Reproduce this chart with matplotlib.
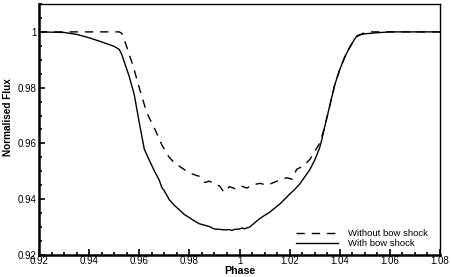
import matplotlib
matplotlib.use('Agg')
import matplotlib.pyplot as plt
from matplotlib.ticker import MultipleLocator, FuncFormatter

# light curve with bow shock (solid)
phase_with = [0.920, 0.930, 0.935, 0.940, 0.945, 0.950, 0.952, 0.953, 0.954, 0.956,
              0.958, 0.960, 0.962, 0.964, 0.966, 0.968, 0.969, 0.970, 0.972, 0.974,
              0.976, 0.978, 0.980, 0.982, 0.984, 0.986, 0.988, 0.990, 0.992, 0.994,
              0.996, 0.997, 0.998, 1.000, 1.001, 1.002, 1.004, 1.006, 1.008, 1.010,
              1.012, 1.014, 1.016, 1.018, 1.020, 1.022, 1.024, 1.026, 1.028, 1.030,
              1.032, 1.033, 1.034, 1.036, 1.038, 1.040, 1.042, 1.044, 1.046, 1.047,
              1.050, 1.055, 1.060, 1.080]
flux_with = [1.0000, 0.9998, 0.9991, 0.9979, 0.9964, 0.9948, 0.9937, 0.9920, 0.9893, 0.9840,
             0.9775, 0.9675, 0.9580, 0.9540, 0.9502, 0.9468, 0.9442, 0.9430, 0.9398, 0.9378,
             0.9362, 0.9345, 0.9334, 0.9322, 0.9312, 0.9307, 0.9302, 0.9293, 0.9292, 0.9290,
             0.9291, 0.9288, 0.9292, 0.9293, 0.9297, 0.9294, 0.9300, 0.9315, 0.9330, 0.9342,
             0.9353, 0.9368, 0.9382, 0.9400, 0.9418, 0.9435, 0.9454, 0.9480, 0.9505, 0.9540,
             0.9585, 0.9620, 0.9660, 0.9735, 0.9810, 0.9865, 0.9910, 0.9945, 0.9975, 0.9987,
             0.9993, 0.9997, 1.0000, 1.0000]

# light curve without bow shock (dashed)
phase_without = [0.920, 0.952, 0.953, 0.9545, 0.9576, 0.960, 0.963, 0.9663, 0.9690, 0.9716,
                 0.9740, 0.9769, 0.9790, 0.9816, 0.9840, 0.9862, 0.9880, 0.9902, 0.9920,
                 0.9938, 0.9960, 0.9982, 1.0005, 1.0029, 1.0055, 1.0082, 1.0110, 1.0142,
                 1.0165, 1.0188, 1.0210, 1.0228, 1.0255, 1.0281, 1.0321, 1.0340, 1.036,
                 1.038, 1.040, 1.042, 1.044, 1.046, 1.048, 1.0508, 1.060, 1.080]
flux_without = [1.0000, 1.0000, 0.9995, 0.9960, 0.9876, 0.9800, 0.9710, 0.9650, 0.9595, 0.9555,
                0.9530, 0.9513, 0.9500, 0.9489, 0.9482, 0.9460, 0.9465, 0.9452, 0.9448,
                0.9425, 0.9445, 0.9438, 0.9448, 0.9440, 0.9452, 0.9457, 0.9450, 0.9462,
                0.9470, 0.9477, 0.9472, 0.9507, 0.9520, 0.9543, 0.9602, 0.9660, 0.9735,
                0.9810, 0.9865, 0.9910, 0.9945, 0.9975, 0.9990, 1.0000, 1.0000, 1.0000]

labels = ['Without bow shock', 'With bow shock']

plt.rcParams['font.family'] = ['Liberation Sans', 'DejaVu Sans']

fig = plt.figure(figsize=(4.52, 2.77), dpi=100)
ax = fig.add_axes([39 / 452, 22 / 277, 401 / 452, 251 / 277])

ax.plot(phase_without, flux_without, color='black', lw=1.0, dashes=(6, 5), label=labels[0])
ax.plot(phase_with, flux_with, color='black', lw=1.0, label=labels[1])

ax.set_xlim(0.92, 1.08)
ax.set_ylim(0.92, 1.01)
ax.xaxis.set_major_locator(MultipleLocator(0.02))
ax.xaxis.set_minor_locator(MultipleLocator(0.005))
ax.yaxis.set_major_locator(MultipleLocator(0.02))
ax.yaxis.set_minor_locator(MultipleLocator(0.005))

fmt = FuncFormatter(lambda v, p: ('%.2f' % v).rstrip('0').rstrip('.'))
ax.xaxis.set_major_formatter(fmt)
ax.yaxis.set_major_formatter(fmt)

ax.tick_params(which='both', direction='in', top=False, right=False, labelsize=7, width=1.2)
ax.tick_params(which='major', length=4)
ax.tick_params(axis='x', which='major', pad=1)
ax.tick_params(axis='y', which='major', pad=2)
ax.tick_params(which='minor', length=2)

for side in ['left', 'bottom']:
    ax.spines[side].set_linewidth(1.8)
for side in ['top', 'right']:
    ax.spines[side].set_linewidth(1.0)

ax.set_xlabel('Phase', fontsize=7.7, fontweight='bold', labelpad=0)
ax.set_ylabel('Normalised Flux', fontsize=7.2, fontweight='bold')
ax.yaxis.set_label_coords(-0.066, 0.55)

ax.legend(loc='lower right', bbox_to_anchor=(0.978, 0.012), frameon=False, fontsize=6.8,
          handlelength=4.5, handletextpad=1.0, labelspacing=0.1, borderaxespad=0)

fig.savefig('out.png', dpi=100)
